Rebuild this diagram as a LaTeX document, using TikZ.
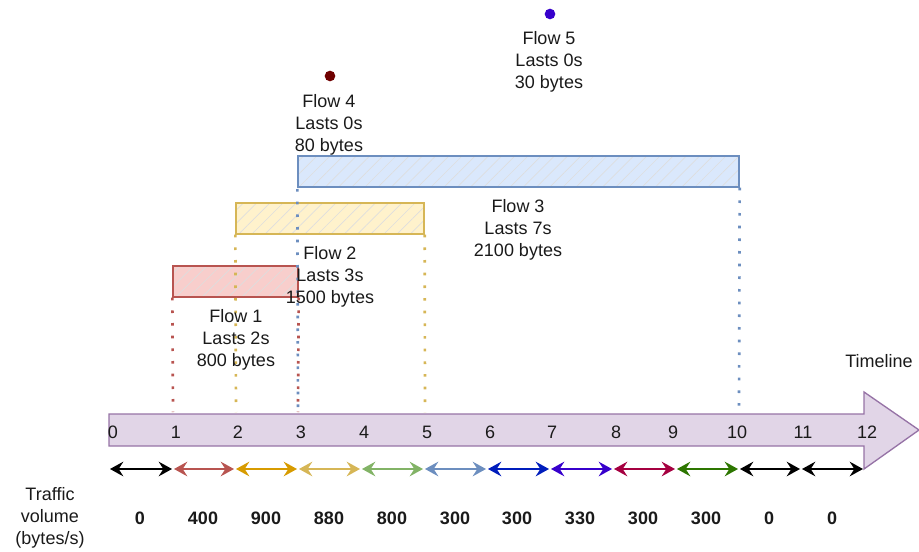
\documentclass[tikz,border=0pt]{standalone}
\usepackage{fontspec}
\setmainfont{Liberation Sans}
\usetikzlibrary{arrows.meta,patterns.meta}
\definecolor{redF}{HTML}{F8CECC}\definecolor{redS}{HTML}{B85450}
\definecolor{yelF}{HTML}{FFF2CC}\definecolor{yelS}{HTML}{D6B656}
\definecolor{bluF}{HTML}{DAE8FC}\definecolor{bluS}{HTML}{6C8EBF}
\definecolor{purF}{HTML}{E1D5E7}\definecolor{purS}{HTML}{9673A6}
\definecolor{orS}{HTML}{D79B00}\definecolor{grS}{HTML}{82B366}
\definecolor{dbS}{HTML}{001DBC}\definecolor{viS}{HTML}{3700CC}
\definecolor{crS}{HTML}{A50040}\definecolor{dgS}{HTML}{2D7600}
\definecolor{drS}{HTML}{6F0000}\definecolor{txt}{HTML}{1A1A1A}
\begin{document}
\begin{tikzpicture}[x=0.75pt,y=-0.75pt,
  lbl/.style={inner sep=0pt,align=center,text=txt,font=\fontsize{13.5}{16.5}\selectfont},
  val/.style={lbl,font=\fontsize{13.5}{16.5}\selectfont\bfseries},
  flowbox/.style={draw=#1S,line width=1pt,preaction={fill=#1F},preaction={pattern={Lines[angle=45,distance=7pt,line width=0.5pt]},pattern color=black!13}},
  guide/.style={draw=#1,line width=2pt,dash pattern=on 2pt off 7.5pt},
  span/.style={draw=#1,line width=1.1pt,{Stealth[length=10pt,width=11pt,inset=3.5pt]}-{Stealth[length=10pt,width=11pt,inset=3.5pt]}},
  dotmark/.style={circle,fill=#1,inner sep=0pt,minimum size=8pt}]
\useasboundingbox (0,0) rectangle (919,552);
% timeline arrow
\draw[fill=purF,draw=purS,line width=1pt] (109,414) -- (864,414) -- (864,392) -- (919,430) -- (864,469) -- (864,446) -- (109,446) -- cycle;
\node[lbl] (tl) at (879,361) {Timeline};
% tick labels
\foreach \i/\x in {0/113,1/176,2/238,3/301,4/364,5/427,6/490,7/552,8/616,9/673,10/737,11/803,12/867}
  \node[lbl] (t\i) at (\x,432) {\i};
% guide coordinates on the arrow top edge
\coordinate (g1) at (173,412);
\coordinate (g2) at (236,412);
\coordinate (g3) at (298,412);
\coordinate (g5) at (425,412);
\coordinate (g10) at (739,412);
% flow boxes
\node[flowbox=red,minimum width=125*0.75pt,minimum height=31*0.75pt,inner sep=0pt] (f1) at (235.5,281.5) {};
\node[flowbox=yel,minimum width=188*0.75pt,minimum height=31*0.75pt,inner sep=0pt] (f2) at (330,218.5) {};
\node[flowbox=blu,minimum width=441*0.75pt,minimum height=31*0.75pt,inner sep=0pt] (f3) at (518.5,171.5) {};
% dotted guides
\draw[guide=redS] (f1.south west) -- (g1);
\draw[guide=redS] (f1.south east) -- (g3);
\draw[guide=yelS] (f2.south west) -- (g2);
\draw[guide=yelS] (f2.south east) -- (g5);
\draw[guide=bluS] ([yshift=-1pt]f3.south west) -- (g3);
\draw[guide=bluS] (f3.south east) -- (g10);
% point flows
\node[dotmark=drS] (d4) at (330,76) {};
\node[dotmark=viS] (d5) at (550,14) {};
% flow labels
\node[lbl] (l5) at (549,62) {Flow 5\\Lasts 0s\\30 bytes};
\node[lbl] (l4) at (329,125) {Flow 4\\Lasts 0s\\80 bytes};
\node[lbl] (l3) at (518,230) {Flow 3\\Lasts 7s\\2100 bytes};
\node[lbl] (l2) at (330,277) {Flow 2\\Lasts 3s\\1500 bytes};
\node[lbl] (l1) at (236,340) {Flow 1\\Lasts 2s\\800 bytes};
% interval arrows
\foreach \i/\a/\b/\c in {0/110/172/black,1/174/234/redS,2/236/297/orS,3/299/360/yelS,4/362/423/grS,5/425/486/bluS,6/488/549/dbS,7/551/612/viS,8/614/675/crS,9/677/738/dgS,10/740/800/black,11/802/863/black}{
  \coordinate (a\i) at (\a,469);
  \coordinate (b\i) at (\b,469);
  \draw[span=\c] (a\i) -- (b\i);
}
% values
\node[lbl] (tv) at (50,518) {Traffic\\volume\\(bytes/s)};
\foreach \i/\x/\v in {0/140/0,1/203/400,2/266/900,3/329/880,4/392/800,5/455/300,6/517/300,7/580/330,8/643/300,9/706/300,10/769/0,11/832/0}
  \node[val] (v\i) at (\x,518) {\v};
\end{tikzpicture}
\end{document}
